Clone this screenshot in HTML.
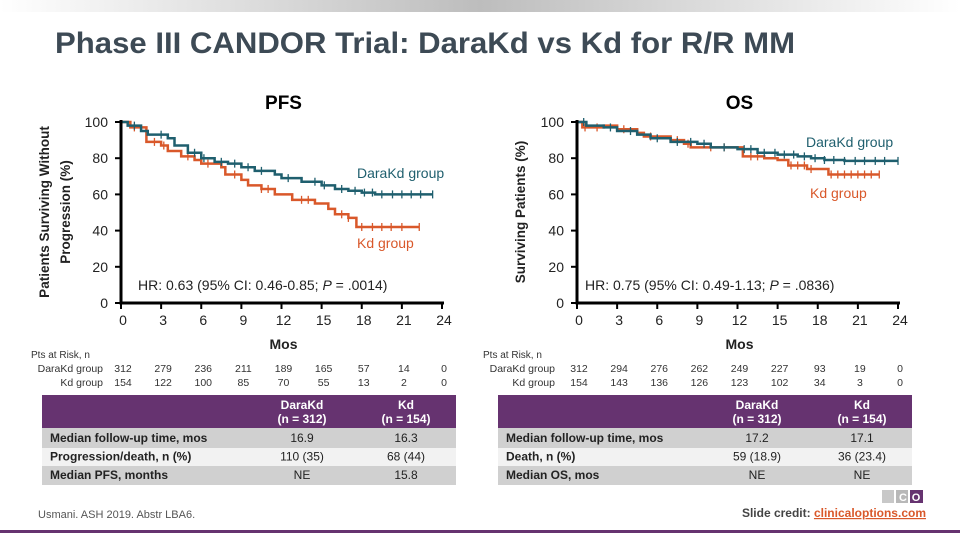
<!DOCTYPE html>
<html><head><meta charset="utf-8"><style>
body{margin:0;background:#fff}
svg{display:block;font-family:"Liberation Sans",sans-serif}
</style></head><body>
<svg id="s" width="960" height="540" viewBox="0 0 960 540" xmlns="http://www.w3.org/2000/svg">
<defs><linearGradient id="g" x1="0" x2="1"><stop offset="0" stop-color="#fff"/><stop offset="0.5" stop-color="#bdbdbd"/><stop offset="1" stop-color="#fff"/></linearGradient></defs>
<rect x="0" y="0" width="960" height="12" fill="url(#g)"/>
<text x="55" y="53" font-size="30" font-weight="bold" fill="#3d4a55" textLength="740" lengthAdjust="spacingAndGlyphs">Phase III CANDOR Trial: DaraKd vs Kd for R/R MM</text>
<g id="pfs"></g>
<g id="os"></g>
<rect x="0" y="530" width="960" height="3" fill="#663370"/>
<text x="38" y="518" font-size="11" fill="#555">Usmani. ASH 2019. Abstr LBA6.</text>
<g><rect x="882" y="490" width="12" height="13" fill="#c8c8c8"/><rect x="896" y="490" width="12" height="13" fill="#b8b8b8"/><rect x="910" y="490" width="13" height="13" fill="#663370"/>
<text x="903" y="501" font-size="11" fill="#fff" text-anchor="middle" font-weight="bold">C</text><text x="916" y="501" font-size="11" fill="#fff" text-anchor="middle" font-weight="bold">O</text></g>
<text x="926" y="517" font-size="12" text-anchor="end" fill="#444" font-weight="bold">Slide credit: <tspan fill="#d9582a" text-decoration="underline">clinicaloptions.com</tspan></text>
</svg>
<script>
const ticksX=[0,3,6,9,12,15,18,21,24];
const ticksY=[0,20,40,60,80,100];
// PFS data (time months, survival %)
const pfsDaraT=[0,0.5,1.5,2,3.5,4,5,6,7,8,9,10,11.5,12,13.5,15,16,17,18,19,23.3];
const pfsDaraS=[100,98,95,93,91,87,83,80,78,77,75,73,71,69,67,65,63,62,61,60,60];
const pfsDaraC=[1,3,5.5,6.2,7.5,8.5,9.5,10.5,12.5,14.5,15.2,16.5,17.5,18.2,18.8,19.5,20.3,21,21.7,22.4,23.3];
const pfsKdT=[0,0.7,1.9,3,3.5,4.5,5.5,6,7.5,7.8,9,9.5,10.5,11.5,12.8,14.5,15.5,16,17,17.6,22.3];
const pfsKdS=[100,97,89,87,84,81,79,77,75,71,68,65,63,60,57,55,52,49,47,42,42];
const pfsKdC=[1,2.5,3.2,5,6.5,8.5,10.5,11,13.5,14,16.5,17,18,18.8,19.5,20.2,21,22.3];
const pfsRiskDara=[312,279,236,211,189,165,57,14,0];
const pfsRiskKd=[154,122,100,85,70,55,13,2,0];
// OS data
const osDaraT=[0,0.7,2,3,4.5,5.5,7,9,10,12,13.5,15,16.5,17.5,18.5,20,24];
const osDaraS=[100,98,97,95,93,91,89,88,86,85,83,82,81,80,79,78.5,78.5];
const osDaraC=[0.5,2.5,4,6,7.5,8.5,9.5,11,12.5,13,14,14.8,15.5,16.2,17,17.8,18.5,19.2,20,20.8,21.5,22.3,23,24];
const osKdT=[0,0.4,2,3,4.5,5,7,8,8.5,12.4,14,15,15.8,17.2,18.8,22.6];
const osKdS=[100,97,98,96,94,92,90,88,86,81,80,79,76,74,71,71];
const osKdC=[0.6,1.5,3.5,5.5,7.5,8.3,10,11,13,13.5,16,16.5,17,17.5,19,19.5,20,20.5,21,21.5,22,22.6];
const osRiskDara=[312,294,276,262,249,227,93,19,0];
const osRiskKd=[154,143,136,126,123,102,34,3,0];
const NS="http://www.w3.org/2000/svg";
function mk(p,tag,a,txt){const e=document.createElementNS(NS,tag);for(const k in a)e.setAttribute(k,a[k]);if(txt!==undefined)e.textContent=txt;p.appendChild(e);return e;}
function survAt(T,S,t){let v=S[0];for(let i=0;i<T.length;i++){if(T[i]<=t)v=S[i];}return v;}
function chart(gid,x0,x1,opt){
 const g=document.getElementById(gid);
 const y0=303,y1=122;
 const X=t=>x0+(x1-x0)*t/24, Y=v=>y0-(y0-y1)*v/100;
 const series=[[opt.kT,opt.kS,opt.kC,'#d9582a','kd'],[opt.dT,opt.dS,opt.dC,'#1f5f6e','darakd']];
 for(const [T,S,C,col,nm] of series){
  let d='M'+X(T[0])+','+Y(S[0]);
  for(let i=1;i<T.length;i++){d+=' H'+X(T[i])+' V'+Y(S[i]);}
  const p=mk(g,'path',{d:d,fill:'none',stroke:col,'stroke-width':2.5});
  
  
  for(const c of C){const cx=X(c),cy=Y(survAt(T,S,c));
   const m=mk(g,'path',{d:'M'+cx+','+(cy-4)+' V'+(cy+4),stroke:col,'stroke-width':1.3});
   
   }
 }
 mk(g,'path',{d:'M'+x0+','+(y1-2)+' V'+y0+' H'+(x1+2),fill:'none',stroke:'#000','stroke-width':3});
 for(const v of ticksY){mk(g,'line',{x1:x0-6,x2:x0,y1:Y(v),y2:Y(v),stroke:'#000','stroke-width':2});
  const t=mk(g,'text',{x:x0-13,y:Y(v)+5,'font-size':14,'text-anchor':'end',fill:'#222'},v);
  
  }
 ticksX.forEach((v,i)=>{mk(g,'line',{x1:X(v),x2:X(v),y1:y0,y2:y0+6,stroke:'#000','stroke-width':2});
  const t=mk(g,'text',{x:X(v)+2,y:325,'font-size':14,'text-anchor':'middle',fill:'#222'},v);
  
  
  const a=mk(g,'text',{x:X(v)+2,y:372,'font-size':10.5,'text-anchor':'middle',fill:'#333'},opt.rD[i]);
  
  
  const b=mk(g,'text',{x:X(v)+2,y:386,'font-size':10.5,'text-anchor':'middle',fill:'#333'},opt.rK[i]);
  
  });
 mk(g,'text',{x:(x0+x1)/2+2,y:109,'font-size':19,'font-weight':'bold','text-anchor':'middle',fill:'#000'},opt.title);
 mk(g,'text',{x:(x0+x1)/2+2,y:349,'font-size':14,'font-weight':'bold','text-anchor':'middle',fill:'#222'},'Mos');
 const hr=mk(g,'text',{x:opt.hrx,y:290,'font-size':14,fill:'#222'});
 hr.innerHTML=opt.hr;
 mk(g,'text',{x:opt.lx1,y:opt.ly1,'font-size':14,fill:'#1f5f6e'},'DaraKd group');
 mk(g,'text',{x:opt.lx2,y:opt.ly2,'font-size':14,fill:'#d9582a'},'Kd group');
 mk(g,'text',{x:opt.rl-72,y:358,'font-size':10,fill:'#333'},'Pts at Risk, n');
 mk(g,'text',{x:opt.rl,y:372,'font-size':10.5,'text-anchor':'end',fill:'#333'},'DaraKd group');
 mk(g,'text',{x:opt.rl,y:386,'font-size':10.5,'text-anchor':'end',fill:'#333'},'Kd group');
 // table
 const tx=opt.tx,tw=414;
 mk(g,'rect',{x:tx,y:395,width:tw,height:33,fill:'#663370'});
 mk(g,'rect',{x:tx,y:428,width:tw,height:20,fill:'#d0d0d0'});
 mk(g,'rect',{x:tx,y:448,width:tw,height:18,fill:'#f2f2f2'});
 mk(g,'rect',{x:tx,y:466,width:tw,height:19,fill:'#d0d0d0'});
 [['DaraKd','(n = 312)',opt.c1],['Kd','(n = 154)',opt.c2]].forEach(([a,b,cx])=>{
  mk(g,'text',{x:cx,y:409,'font-size':12,'font-weight':'bold','text-anchor':'middle',fill:'#fff'},a);
  mk(g,'text',{x:cx,y:423,'font-size':12,'font-weight':'bold','text-anchor':'middle',fill:'#fff'},b);});
 opt.rows.forEach((r,i)=>{const yy=442+i*18.5;
  mk(g,'text',{x:tx+8,y:yy,'font-size':12,'font-weight':'bold',fill:'#222'},r[0]);
  mk(g,'text',{x:opt.c1,y:yy,'font-size':12,'text-anchor':'middle',fill:'#222'},r[1]);
  mk(g,'text',{x:opt.c2,y:yy,'font-size':12,'text-anchor':'middle',fill:'#222'},r[2]);});
 for(const [lines,cx] of [[opt.yt,opt.ytx]]){
  lines.forEach((l,i)=>{mk(g,'text',{x:0,y:0,'font-size':13.5,'font-weight':'bold','text-anchor':'middle',fill:'#222',transform:'translate('+(cx+i*21)+',212) rotate(-90)'},l);});
 }
}
chart('pfs',121,442,{dT:pfsDaraT,dS:pfsDaraS,dC:pfsDaraC,kT:pfsKdT,kS:pfsKdS,kC:pfsKdC,rD:pfsRiskDara,rK:pfsRiskKd,
 title:'PFS',hrx:138,hr:'HR: 0.63 (95% CI: 0.46-0.85; <tspan font-style="italic">P</tspan> = .0014)',
 lx1:357,ly1:178,lx2:357,ly2:248,rl:103,tx:42,c1:302,c2:406,
 rows:[['Median follow-up time, mos','16.9','16.3'],['Progression/death, n (%)','110 (35)','68 (44)'],['Median PFS, months','NE','15.8']],
 yt:['Patients Surviving Without','Progression (%)'],ytx:49});
chart('os',577,898,{dT:osDaraT,dS:osDaraS,dC:osDaraC,kT:osKdT,kS:osKdS,kC:osKdC,rD:osRiskDara,rK:osRiskKd,
 title:'OS',hrx:585,hr:'HR: 0.75 (95% CI: 0.49-1.13; <tspan font-style="italic">P</tspan> = .0836)',
 lx1:806,ly1:147,lx2:810,ly2:198,rl:555,tx:498,c1:757,c2:862,
 rows:[['Median follow-up time, mos','17.2','17.1'],['Death, n (%)','59 (18.9)','36 (23.4)'],['Median OS, mos','NE','NE']],
 yt:['Surviving Patients (%)'],ytx:525});
</script>
</body></html>
